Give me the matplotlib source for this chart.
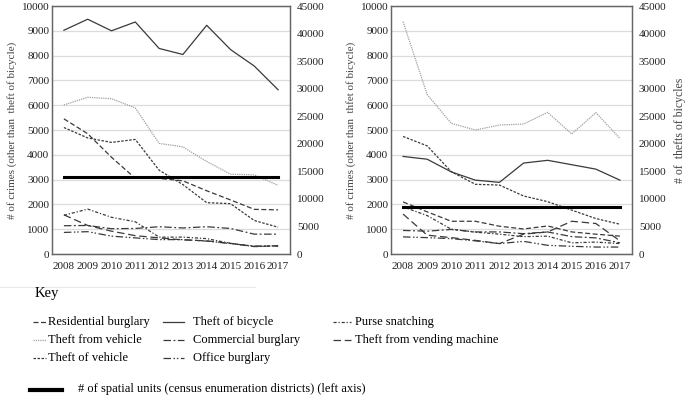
import matplotlib.pyplot as plt
from matplotlib.lines import Line2D

plt.rcParams['font.family'] = 'serif'
plt.rcParams['font.serif'] = ['Liberation Serif', 'DejaVu Serif']

years = ['2008', '2009', '2010', '2011', '2012', '2013', '2014', '2015', '2016', '2017']

# left panel
res_L = [5450, 4850, 3900, 3050, 3050, 2950, 2550, 2180, 1800, 1780]
tfv_L = [6010, 6320, 6260, 5890, 4460, 4320, 3730, 3220, 3190, 2770]
tov_L = [5100, 4680, 4500, 4620, 3380, 2800, 2070, 2030, 1350, 1080]
bic_L = [40600, 42600, 40500, 42100, 37300, 36200, 41500, 37100, 34100, 29800]
purse_L = [1560, 1810, 1480, 1300, 680, 680, 620, 430, 300, 330]
comm_L = [1140, 1150, 1020, 1030, 1100, 1050, 1100, 1030, 800, 800]
office_L = [870, 900, 720, 650, 580, 580, 520, 420, 320, 330]
vend_L = [1580, 1150, 920, 740, 650, 570, 530, 430, 300, 330]
units_L = 3100

# right panel
res_R = [2100, 1700, 1320, 1320, 1120, 1010, 1130, 890, 800, 720]
tfv_R = [9370, 6430, 5270, 5000, 5200, 5240, 5710, 4840, 5700, 4660]
tov_R = [4740, 4360, 3320, 2810, 2780, 2340, 2110, 1770, 1430, 1200]
bic_R = [17700, 17200, 14900, 13400, 13000, 16500, 17000, 16200, 15400, 13400]
purse_R = [1900, 1550, 1000, 880, 800, 700, 720, 450, 480, 420]
comm_R = [950, 920, 990, 890, 890, 820, 890, 700, 650, 450]
office_R = [690, 660, 620, 530, 420, 510, 350, 310, 280, 280]
vend_R = [1610, 760, 660, 550, 420, 800, 890, 1320, 1230, 530]
units_R = 1900

dk = '#3a3a3a'
styles = {
    'Residential burglary': dict(color=dk, ls=(0, (4, 2))),
    'Theft from vehicle': dict(color='#a0a0a0', ls=(0, (1, 0.8))),
    'Theft of vehicle': dict(color=dk, ls=(0, (2, 1.2))),
    'Theft of bicycle': dict(color=dk, ls='-'),
    'Commercial burglary': dict(color=dk, ls=(0, (6, 2, 1.5, 2))),
    'Office burglary': dict(color=dk, ls=(0, (6, 2, 1.2, 1.5, 1.2, 2))),
    'Purse snatching': dict(color=dk, ls=(0, (2.5, 1.5, 1, 1.5))),
    'Theft from vending machine': dict(color=dk, ls=(0, (6, 3))),
}

fig = plt.figure(figsize=(6.85, 4.0), dpi=100)
ax1 = fig.add_axes([52 / 685, 146 / 400, 238 / 685, 248 / 400])
ax2 = fig.add_axes([391 / 685, 146 / 400, 241 / 685, 248 / 400])


def panel(ax, res, tfv, tov, bic, purse, comm, office, vend, units, ylab, rlab):
    x = range(len(years))
    for name, vals in [('Residential burglary', res), ('Theft from vehicle', tfv),
                       ('Theft of vehicle', tov), ('Commercial burglary', comm),
                       ('Office burglary', office), ('Purse snatching', purse),
                       ('Theft from vending machine', vend)]:
        ax.plot(x, vals, lw=0.9, **styles[name])
    ax.plot(x, [units] * len(years), color='black', lw=2.2)
    ax.set_ylim(0, 10000)
    ax.set_yticks(range(0, 10001, 1000))
    ax.set_xlim(-0.5, len(years) - 0.5)
    ax.set_xticks(list(x))
    ax.set_xticklabels(years)
    ax.grid(axis='y', color='#dcdcdc', lw=0.9)
    ax.set_axisbelow(True)
    ax.tick_params(axis='y', length=0, labelsize=8, pad=2, labelcolor='#222222')
    ax.tick_params(axis='x', length=0, labelsize=8, pad=6, labelcolor='#222222')
    ax.set_ylabel(ylab, fontsize=8, color='#444444', labelpad=3)
    for s in ax.spines.values():
        s.set_color('#666666')
        s.set_linewidth(0.9)
    axr = ax.twinx()
    axr.plot(x, bic, lw=0.9, **styles['Theft of bicycle'])
    axr.set_ylim(0, 45000)
    axr.set_yticks(range(0, 45001, 5000))
    axr.tick_params(length=0, labelsize=8, pad=5, labelcolor='#222222')
    for s in axr.spines.values():
        s.set_color('#666666')
        s.set_linewidth(0.9)
    if rlab:
        axr.set_ylabel(rlab, fontsize=8.5, color='#444444', labelpad=5)


panel(ax1, res_L, tfv_L, tov_L, bic_L, purse_L, comm_L, office_L, vend_L, units_L,
      '# of crimes (other than  theft of bicycle)', None)
panel(ax2, res_R, tfv_R, tov_R, bic_R, purse_R, comm_R, office_R, vend_R, units_R,
      '# of crimes (other than  thfet of bicycle)', '# of  thefts of bicycles')

# key
fig.add_artist(Line2D([0, 255 / 685], [1 - 287 / 400] * 2, color='#e8e8e8', lw=0.8))
fig.text(35 / 685, 1 - 293 / 400, 'Key', fontsize=10.5, va='center')

key_cols = [['Residential burglary', 'Theft from vehicle', 'Theft of vehicle'],
            ['Theft of bicycle', 'Commercial burglary', 'Office burglary'],
            ['Purse snatching', 'Theft from vending machine']]
col_handle = [(33, 46), (163, 184), (333, 351)]
col_text = [48, 193, 355]
row_y = [322, 340, 358]
for c, names in enumerate(key_cols):
    for r, name in enumerate(names):
        y = 1 - row_y[r] / 400
        fig.add_artist(Line2D([col_handle[c][0] / 685, col_handle[c][1] / 685], [y, y],
                              lw=0.9, **styles[name]))
        fig.text(col_text[c] / 685, y, name, fontsize=9, va='center')

fig.add_artist(Line2D([30 / 685, 62 / 685], [1 - 390 / 400] * 2, color='black', lw=3))
fig.text(78 / 685, 1 - 389 / 400, '# of spatial units (census enumeration districts) (left axis)',
         fontsize=9, va='center')

fig.savefig('out.png', dpi=100)
